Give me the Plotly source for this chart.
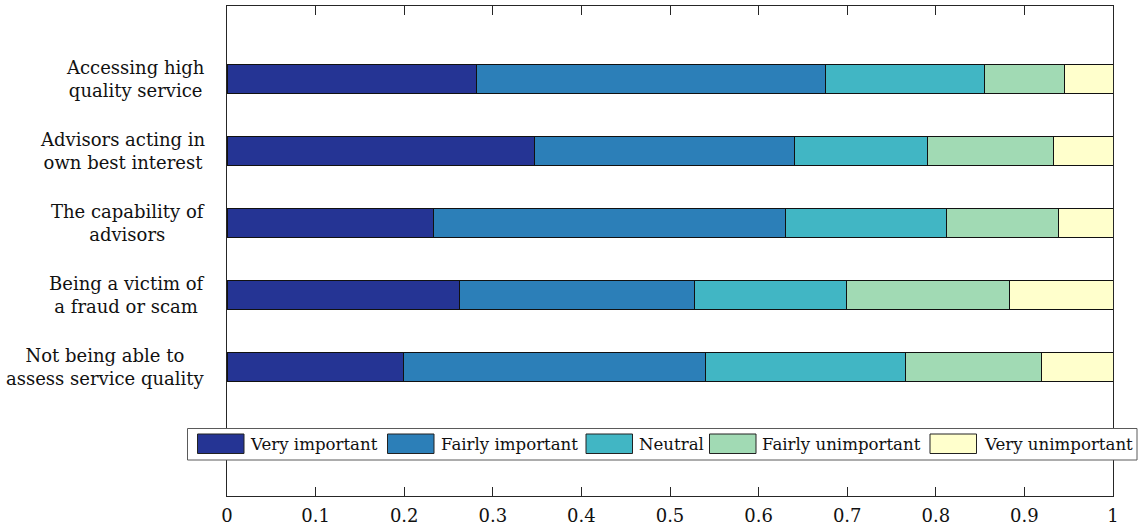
import plotly.graph_objects as go

# Survey concerns (top to bottom) and share of responses per importance level
concerns = [
    "Accessing high<br>quality service",
    "Advisors acting in<br>own best interest",
    "The capability of<br>advisors",
    "Being a victim of<br>a fraud or scam",
    "Not being able to<br>assess service quality",
]
very_important = [0.282, 0.347, 0.233, 0.262, 0.199]
fairly_important = [0.393, 0.293, 0.397, 0.266, 0.341]
neutral = [0.180, 0.151, 0.182, 0.171, 0.226]
fairly_unimportant = [0.090, 0.142, 0.126, 0.184, 0.153]
very_unimportant = [0.055, 0.067, 0.062, 0.117, 0.081]

levels = ["Very important", "Fairly important", "Neutral",
          "Fairly unimportant", "Very unimportant"]
colors = ["#253494", "#2c7fb8", "#41b6c4", "#a1dab4", "#ffffcc"]
series = [very_important, fairly_important, neutral,
          fairly_unimportant, very_unimportant]

x_ticks = [0, 0.1, 0.2, 0.3, 0.4, 0.5, 0.6, 0.7, 0.8, 0.9, 1]
x_tick_text = ["0", "0.1", "0.2", "0.3", "0.4", "0.5", "0.6", "0.7", "0.8", "0.9", "1"]

FONT = "DejaVu Serif"
FS = 18
FS_LEG = 16.6
AXIS_COLOR = "#262626"

# Figure geometry (pixels)
W, H = 1138, 527
L, R, T, B = 227, 25, 6, 31
PW, PH = W - L - R, H - T - B


def px_x(p):
    return (p - L) / PW


def px_y(p):
    return (H - B - p) / PH


ypos = list(range(1, len(concerns) + 1))

fig = go.Figure()
for name, vals, col in zip(levels, series, colors):
    fig.add_trace(go.Bar(
        y=ypos, x=vals, name=name, orientation="h",
        marker=dict(color=col, line=dict(color="#111111", width=1)),
        width=0.406, showlegend=False,
    ))

# Category labels, centred line-by-line like a LaTeX tabular
annotations = []
for yv, label in zip(ypos, concerns):
    annotations.append(dict(
        x=px_x(207), xref="paper", y=yv, yref="y",
        text=label, showarrow=False, xanchor="right", yanchor="middle",
        align="center", font=dict(family=FONT, size=FS, color="#111111"),
    ))

# Legend drawn as a single horizontal box across the lower part of the axes
shapes = [dict(
    type="rect", xref="paper", yref="paper",
    x0=px_x(187.5), x1=px_x(1137), y0=px_y(460), y1=px_y(428.5),
    fillcolor="white", line=dict(color="#5a5a5a", width=1), layer="above",
)]
swatch_left = [197.5, 387.5, 586, 709.5, 930]
text_left = [248, 438.5, 636.5, 760, 981.5]
for name, col, sx, tx in zip(levels, colors, swatch_left, text_left):
    shapes.append(dict(
        type="rect", xref="paper", yref="paper",
        x0=px_x(sx), x1=px_x(sx + 46.5), y0=px_y(453.5), y1=px_y(434),
        fillcolor=col, line=dict(color="#222222", width=1), layer="above",
    ))
    annotations.append(dict(
        x=px_x(tx), xref="paper", y=px_y(444), yref="paper",
        text=name, showarrow=False, xanchor="left", yanchor="middle",
        font=dict(family=FONT, size=FS_LEG, color="#111111"),
    ))

fig.update_layout(
    width=W, height=H,
    margin=dict(l=L, r=R, t=T, b=B, pad=0),
    barmode="stack",
    plot_bgcolor="white", paper_bgcolor="white",
    font=dict(family=FONT, size=FS, color="#111111"),
    shapes=shapes, annotations=annotations,
    xaxis=dict(
        range=[0, 1], tickvals=x_ticks, ticktext=x_tick_text,
        ticks="inside", ticklen=9, tickcolor=AXIS_COLOR, tickwidth=1,
        showline=True, linecolor=AXIS_COLOR, linewidth=1, mirror="ticks",
        showgrid=False, zeroline=False, automargin=False,
        ticklabelstandoff=3,
        tickfont=dict(family=FONT, size=FS, color="#111111"),
    ),
    yaxis=dict(
        range=[6.785, -0.01], showticklabels=False, ticks="",
        showline=True, linecolor=AXIS_COLOR, linewidth=1, mirror=True,
        showgrid=False, zeroline=False, automargin=False,
    ),
)

fig.write_html("out.html")
